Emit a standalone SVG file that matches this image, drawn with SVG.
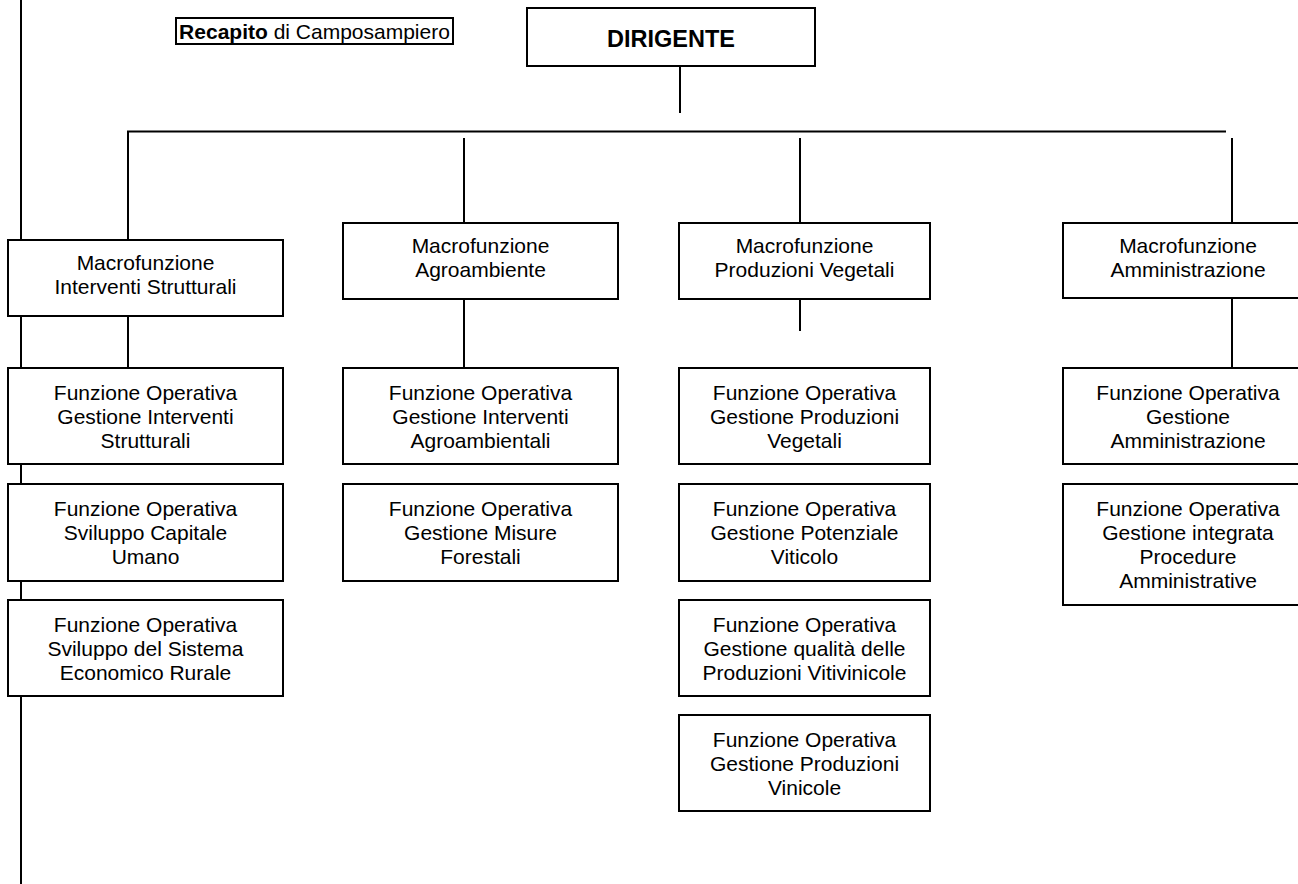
<svg xmlns="http://www.w3.org/2000/svg" width="1298" height="884" viewBox="0 0 1298 884">
<style>
.box{fill:#fff;stroke:#000;stroke-width:2}
.ln{stroke:#000;stroke-width:2;fill:none}
text{font-family:"Liberation Sans",Arial,sans-serif;font-size:21px;fill:#000;text-anchor:middle}
.b{font-weight:bold}
</style>
<rect width="1298" height="884" fill="#fff"/>
<g id="connectors">
<line class="ln" x1="21" y1="0" x2="21" y2="884"/>
<line class="ln" x1="680" y1="66" x2="680" y2="113"/>
<line class="ln" x1="127" y1="131.5" x2="1226" y2="131.5"/>
<line class="ln" x1="128" y1="131" x2="128" y2="240"/>
<line class="ln" x1="128" y1="316" x2="128" y2="368"/>
<line class="ln" x1="464" y1="138" x2="464" y2="223"/>
<line class="ln" x1="464" y1="299" x2="464" y2="368"/>
<line class="ln" x1="800" y1="138" x2="800" y2="223"/>
<line class="ln" x1="800" y1="299" x2="800" y2="331"/>
<line class="ln" x1="1232" y1="138" x2="1232" y2="223"/>
<line class="ln" x1="1232" y1="298" x2="1232" y2="368"/>
</g>
<g id="recapito">
<rect class="box" x="176" y="18" width="277" height="26"/>
<text x="314.5" y="39"><tspan class="b">Recapito</tspan> di Camposampiero</text>
</g>
<g id="dirigente">
<rect class="box" x="527" y="8" width="288" height="58"/>
<text class="b" x="671" y="47" style="font-size:23.5px">DIRIGENTE</text>
</g>
<g id="macro-is">
<rect class="box" x="8" y="240" width="275" height="76"/>
<text x="145.5" y="270">Macrofunzione</text>
<text x="145.5" y="294">Interventi Strutturali</text>
</g>
<g id="fo-gis">
<rect class="box" x="8" y="368" width="275" height="96"/>
<text x="145.5" y="400">Funzione Operativa</text>
<text x="145.5" y="424">Gestione Interventi</text>
<text x="145.5" y="448">Strutturali</text>
</g>
<g id="fo-scu">
<rect class="box" x="8" y="484" width="275" height="97"/>
<text x="145.5" y="516">Funzione Operativa</text>
<text x="145.5" y="540">Sviluppo Capitale</text>
<text x="145.5" y="564">Umano</text>
</g>
<g id="fo-sser">
<rect class="box" x="8" y="600" width="275" height="96"/>
<text x="145.5" y="632">Funzione Operativa</text>
<text x="145.5" y="656">Sviluppo del Sistema</text>
<text x="145.5" y="680">Economico Rurale</text>
</g>
<g id="macro-agro">
<rect class="box" x="343" y="223" width="275" height="76"/>
<text x="480.5" y="253">Macrofunzione</text>
<text x="480.5" y="277">Agroambiente</text>
</g>
<g id="fo-gia">
<rect class="box" x="343" y="368" width="275" height="96"/>
<text x="480.5" y="400">Funzione Operativa</text>
<text x="480.5" y="424">Gestione Interventi</text>
<text x="480.5" y="448">Agroambientali</text>
</g>
<g id="fo-gmf">
<rect class="box" x="343" y="484" width="275" height="97"/>
<text x="480.5" y="516">Funzione Operativa</text>
<text x="480.5" y="540">Gestione Misure</text>
<text x="480.5" y="564">Forestali</text>
</g>
<g id="macro-pv">
<rect class="box" x="679" y="223" width="251" height="76"/>
<text x="804.5" y="253">Macrofunzione</text>
<text x="804.5" y="277">Produzioni Vegetali</text>
</g>
<g id="fo-gpv">
<rect class="box" x="679" y="368" width="251" height="96"/>
<text x="804.5" y="400">Funzione Operativa</text>
<text x="804.5" y="424">Gestione Produzioni</text>
<text x="804.5" y="448">Vegetali</text>
</g>
<g id="fo-gpvit">
<rect class="box" x="679" y="484" width="251" height="97"/>
<text x="804.5" y="516">Funzione Operativa</text>
<text x="804.5" y="540">Gestione Potenziale</text>
<text x="804.5" y="564">Viticolo</text>
</g>
<g id="fo-gqpv">
<rect class="box" x="679" y="600" width="251" height="96"/>
<text x="804.5" y="632">Funzione Operativa</text>
<text x="804.5" y="656">Gestione qualità delle</text>
<text x="804.5" y="680">Produzioni Vitivinicole</text>
</g>
<g id="fo-gpvin">
<rect class="box" x="679" y="715" width="251" height="96"/>
<text x="804.5" y="747">Funzione Operativa</text>
<text x="804.5" y="771">Gestione Produzioni</text>
<text x="804.5" y="795">Vinicole</text>
</g>
<g id="macro-amm">
<rect class="box" x="1063" y="223" width="250" height="75"/>
<text x="1188" y="253">Macrofunzione</text>
<text x="1188" y="277">Amministrazione</text>
</g>
<g id="fo-ga">
<rect class="box" x="1063" y="368" width="250" height="96"/>
<text x="1188" y="400">Funzione Operativa</text>
<text x="1188" y="424">Gestione</text>
<text x="1188" y="448">Amministrazione</text>
</g>
<g id="fo-gipa">
<rect class="box" x="1063" y="484" width="250" height="121"/>
<text x="1188" y="516">Funzione Operativa</text>
<text x="1188" y="540">Gestione integrata</text>
<text x="1188" y="564">Procedure</text>
<text x="1188" y="588">Amministrative</text>
</g>
</svg>
